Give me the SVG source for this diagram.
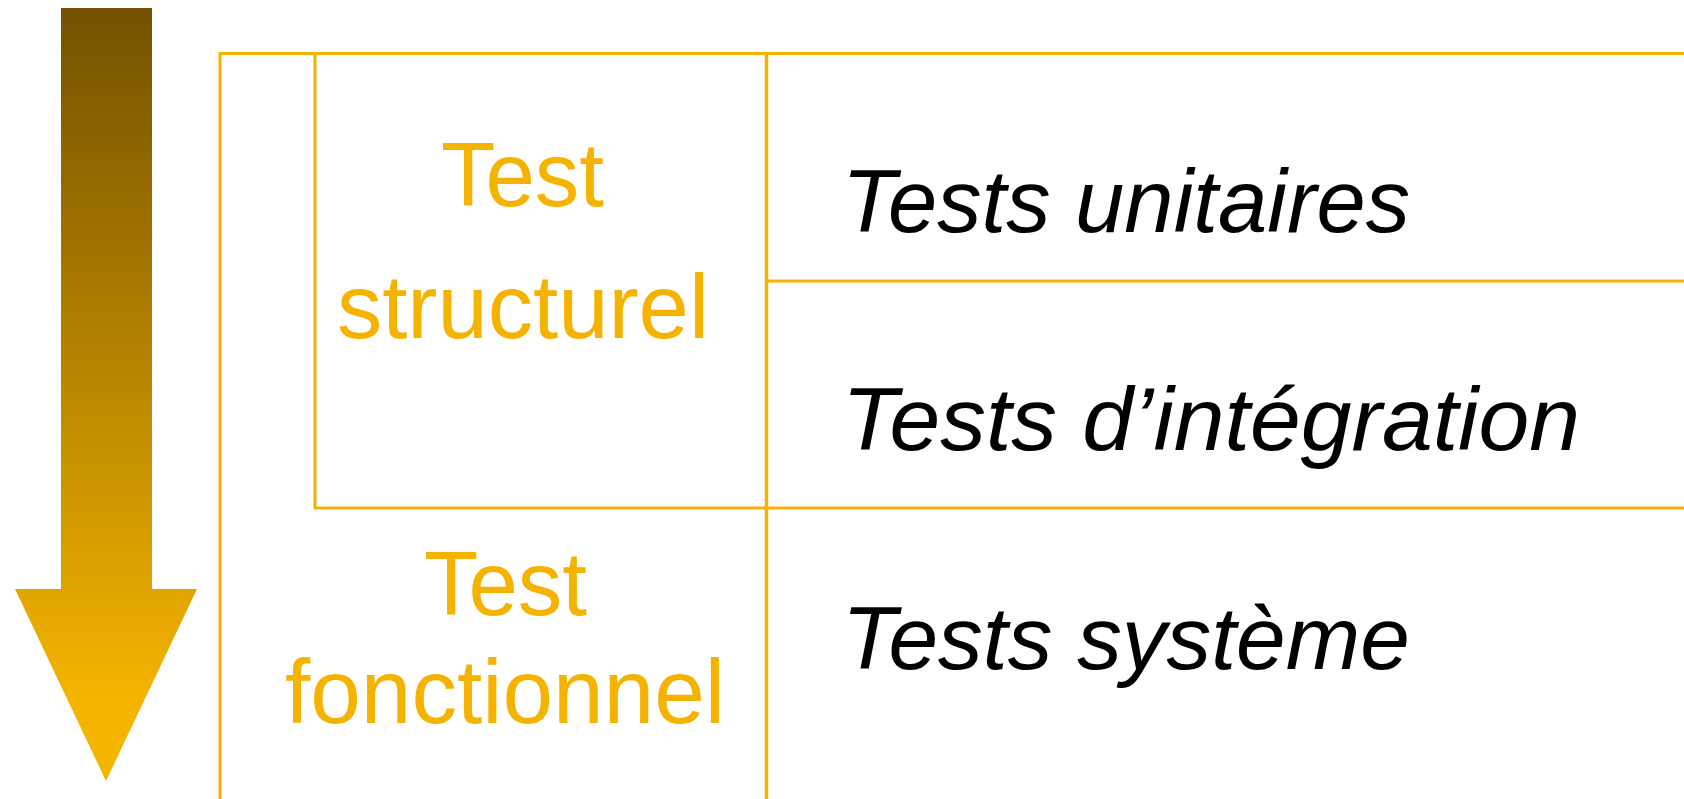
<svg xmlns="http://www.w3.org/2000/svg" width="1684" height="799" viewBox="0 0 1684 799">
  <defs>
    <linearGradient id="arrowGrad" gradientUnits="userSpaceOnUse" x1="0" y1="8" x2="0" y2="700">
      <stop offset="0" stop-color="#735100"/>
      <stop offset="1" stop-color="#F5B400"/>
    </linearGradient>
    <style>
      .grid { stroke: #F5B300; stroke-width: 3; fill: none; }
      .cat { font-family: "Liberation Sans", Arial, Helvetica, sans-serif; font-size: 91px; fill: #F5B300; text-anchor: middle; }
      .lvl { font-family: "Liberation Sans", Arial, Helvetica, sans-serif; font-size: 89px; font-style: italic; fill: #000000; }
    </style>
  </defs>
  <rect x="0" y="0" width="1684" height="799" fill="#FFFFFF"/>

  <g id="arrow">
    <polygon points="61,8 152,8 152,589 197,589 106,781 15,589 61,589" fill="url(#arrowGrad)"/>
  </g>

  <g id="connectors">
    <line class="grid" x1="220" y1="53.5" x2="1684" y2="53.5"/>
    <line class="grid" x1="220" y1="52" x2="220" y2="799"/>
    <line class="grid" x1="315" y1="53.5" x2="315" y2="508"/>
    <line class="grid" x1="313.5" y1="508" x2="1684" y2="508"/>
    <line class="grid" x1="766.5" y1="53.5" x2="766.5" y2="799" style="stroke-width:3.5"/>
    <line class="grid" x1="766.5" y1="281" x2="1684" y2="281"/>
  </g>

  <g id="test-structurel">
    <text class="cat" x="522.5" y="206" textLength="163" lengthAdjust="spacingAndGlyphs">Test</text>
    <text class="cat" x="523" y="338" textLength="372" lengthAdjust="spacingAndGlyphs">structurel</text>
  </g>

  <g id="test-fonctionnel">
    <text class="cat" x="505.5" y="615" textLength="163" lengthAdjust="spacingAndGlyphs">Test</text>
    <text class="cat" x="505" y="723" textLength="440" lengthAdjust="spacingAndGlyphs">fonctionnel</text>
  </g>

  <g id="tests-unitaires">
    <text class="lvl" x="842" y="232" textLength="568" lengthAdjust="spacingAndGlyphs">Tests unitaires</text>
  </g>

  <g id="tests-integration">
    <text class="lvl" x="842" y="450" textLength="738" lengthAdjust="spacingAndGlyphs">Tests d’intégration</text>
  </g>

  <g id="tests-systeme">
    <text class="lvl" x="842" y="669" textLength="568" lengthAdjust="spacingAndGlyphs">Tests système</text>
  </g>
</svg>
